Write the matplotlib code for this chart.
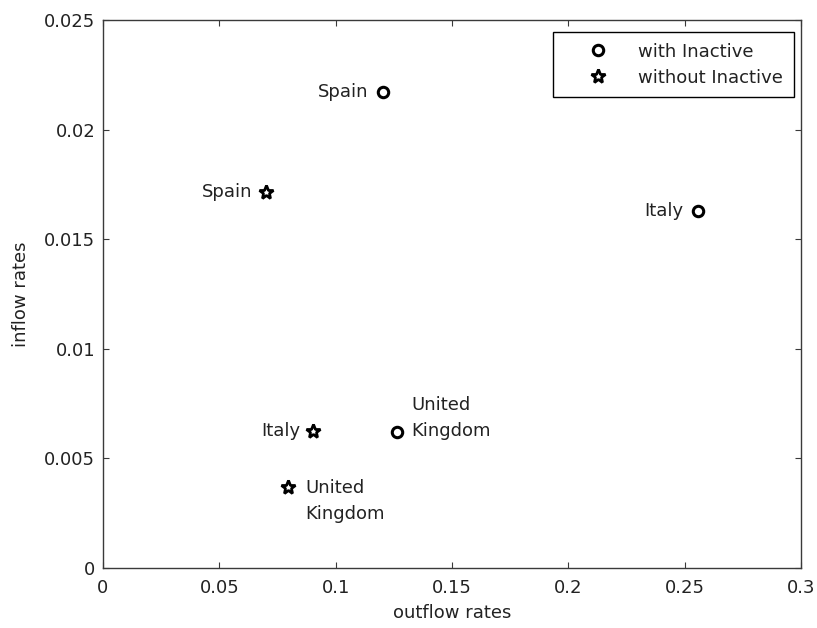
import matplotlib
matplotlib.use("Agg")
import matplotlib.pyplot as plt

plt.rcParams['font.family'] = ['DejaVu Sans']

# Data
countries = ["Spain", "Italy", "United\nKingdom"]
with_out = [0.1202, 0.2559, 0.1265]     # outflow rates, with Inactive
with_in = [0.02173, 0.01629, 0.00622]   # inflow rates, with Inactive
wo_out = [0.0701, 0.0904, 0.0796]       # outflow rates, without Inactive
wo_in = [0.01717, 0.00625, 0.00368]     # inflow rates, without Inactive

xticks = [0, 0.05, 0.1, 0.15, 0.2, 0.25, 0.3]
xticklabels = ["0", "0.05", "0.1", "0.15", "0.2", "0.25", "0.3"]
yticks = [0, 0.005, 0.01, 0.015, 0.02, 0.025]
yticklabels = ["0", "0.005", "0.01", "0.015", "0.02", "0.025"]

W, H = 817, 628
fig = plt.figure(figsize=(W / 100, H / 100), dpi=100)
L, R, T, B = 103, 801, 20, 568
ax = fig.add_axes([L / W, (H - B) / H, (R - L) / W, (B - T) / H])

fs = 13
tc = '#222222'
ec = '#3a3a3a'

ax.plot(with_out, with_in, linestyle='none', marker='o', ms=7.5, mew=2.2,
        mfc='white', mec='black', label='with Inactive')
ax.plot(wo_out, wo_in, linestyle='none', marker='*', ms=10, mew=2.0,
        mfc='white', mec='black', label='without Inactive')

# labels
label_offsets_with = [(-10, 0, 'right', 'center'), (-11, 0, 'right', 'center'), (10, 9.8, 'left', 'center')]
label_offsets_wo = [(-10, 0, 'right', 'center'), (-9.5, 0, 'right', 'center'), (12.5, -9.8, 'left', 'center')]
for name, x, y, (dx, dy, ha, va) in zip(countries, with_out, with_in, label_offsets_with):
    ax.annotate(name, (x, y), xytext=(dx, dy), textcoords='offset points',
                ha=ha, va=va, fontsize=fs, color=tc, linespacing=1.55)
for name, x, y, (dx, dy, ha, va) in zip(countries, wo_out, wo_in, label_offsets_wo):
    ax.annotate(name, (x, y), xytext=(dx, dy), textcoords='offset points',
                ha=ha, va=va, fontsize=fs, color=tc, linespacing=1.55)

ax.set_xlim(0, 0.3)
ax.set_ylim(0, 0.025)
ax.set_xticks(xticks)
ax.set_xticklabels(xticklabels)
ax.set_yticks(yticks)
ax.set_yticklabels(yticklabels)
ax.tick_params(direction='in', length=4.5, width=0.8, color=ec, labelsize=fs,
               labelcolor=tc, top=True, right=True)
ax.tick_params(axis='x', pad=8)
ax.tick_params(axis='y', pad=5.5)
for s in ax.spines.values():
    s.set_color(ec)
    s.set_linewidth(1.0)

ax.set_xlabel('outflow rates', fontsize=fs, color=tc, labelpad=5)
ax.set_ylabel('inflow rates', fontsize=fs, color=tc, labelpad=10)

leg = ax.legend(loc='upper right', bbox_to_anchor=((794 - L) / (R - L), (B - 31.7) / (B - T)),
                borderaxespad=0, fontsize=fs, frameon=True, fancybox=False, framealpha=1,
                edgecolor='black', numpoints=1, handlelength=3.8, handletextpad=0.35,
                borderpad=0.6, labelspacing=0.45)
leg.get_frame().set_linewidth(1.0)
for t in leg.get_texts():
    t.set_color(tc)

fig.savefig('out.png', dpi=100)
